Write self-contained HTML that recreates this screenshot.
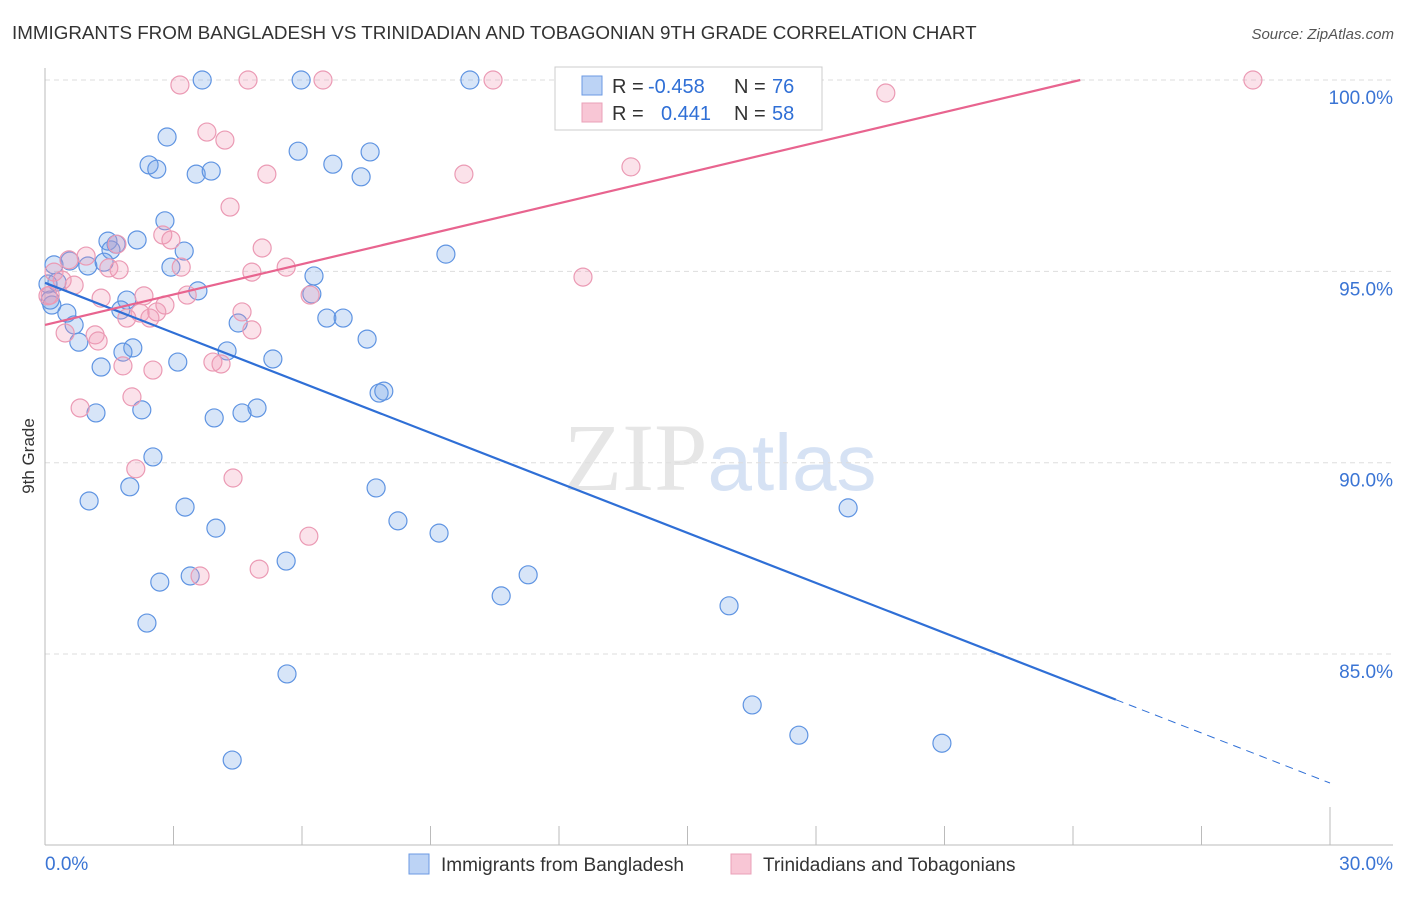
<!DOCTYPE html>
<html><head><meta charset="utf-8"><style>
body{margin:0;background:#fff;font-family:"Liberation Sans",sans-serif}
svg text{font-family:"Liberation Sans",sans-serif}
</style></head><body>
<svg id="chart" width="1406" height="892" xmlns="http://www.w3.org/2000/svg">
<text x="12" y="39" font-size="18.8" fill="#333">IMMIGRANTS FROM BANGLADESH VS TRINIDADIAN AND TOBAGONIAN 9TH GRADE CORRELATION CHART</text>
<text x="1394" y="39" font-size="15" fill="#555" text-anchor="end" font-style="italic">Source: ZipAtlas.com</text>
<text x="720" y="490" font-size="96" text-anchor="middle" fill="#e6e6e6"><tspan font-family="Liberation Serif">ZIP</tspan><tspan fill="#d6e2f4" font-size="80">atlas</tspan></text>
<g id="grid"></g>
<g id="axes"></g>
<g id="pts"></g>
<g id="trend"></g>
<text transform="translate(34,456) rotate(-90)" font-size="17" fill="#333" text-anchor="middle">9th Grade</text>
<g>
<rect x="555" y="67" width="267" height="63" fill="#fff" stroke="#ccc"/>
<rect x="582" y="76" width="20" height="19" fill="#bcd3f5" stroke="#6b9ae3"/>
<rect x="582" y="103" width="20" height="19" fill="#f8c6d5" stroke="#eaa0b8"/>
<text x="612" y="93" font-size="20" fill="#333">R =</text>
<text x="648" y="93" font-size="20" fill="#2f6fd6">-0.458</text>
<text x="734" y="93" font-size="20" fill="#333">N =</text>
<text x="772" y="93" font-size="20" fill="#2f6fd6">76</text>
<text x="612" y="120" font-size="20" fill="#333">R =</text>
<text x="661" y="120" font-size="20" fill="#2f6fd6">0.441</text>
<text x="734" y="120" font-size="20" fill="#333">N =</text>
<text x="772" y="120" font-size="20" fill="#2f6fd6">58</text>
</g>
<g>
<rect x="409" y="854" width="20" height="20" fill="#bcd3f5" stroke="#6b9ae3"/>
<text x="441" y="871" font-size="19" fill="#333">Immigrants from Bangladesh</text>
<rect x="731" y="854" width="20" height="20" fill="#f8c6d5" stroke="#eaa0b8"/>
<text x="763" y="871" font-size="19" fill="#333">Trinidadians and Tobagonians</text>
</g>
</svg>
<script>
const blueX=[3.67,5.98,9.92,2.85,2.43,2.61,3.53,3.88,5.91,6.72,7.59,7.38,2.80,1.47,2.15,1.66,1.54,3.25,9.36,0.21,0.58,1.00,1.38,2.94,6.28,0.28,0.07,3.57,6.23,1.91,0.16,0.51,1.77,6.58,6.96,4.51,0.68,0.79,2.05,1.82,4.25,7.52,3.10,5.32,1.31,7.80,7.91,2.26,1.19,4.95,4.60,3.95,2.52,1.98,1.03,7.73,3.27,8.24,3.99,9.20,18.75,5.63,2.68,3.39,11.28,10.65,15.97,2.38,5.65,16.51,17.60,20.94,4.37,0.12];
const blueY=[100,100,100,98.51,97.78,97.67,97.54,97.62,98.14,97.80,98.12,97.47,96.32,95.79,95.82,95.71,95.56,95.53,95.45,95.17,95.27,95.14,95.24,95.11,94.88,94.72,94.67,94.49,94.41,94.25,94.12,93.91,93.99,93.78,93.78,93.65,93.60,93.15,93.00,92.89,92.92,93.23,92.63,92.71,92.50,91.82,91.87,91.38,91.30,91.43,91.30,91.17,90.15,89.37,89.00,89.34,88.84,88.48,88.29,88.16,88.82,87.43,86.88,87.04,87.07,86.52,86.26,85.81,84.48,83.67,82.88,82.67,82.23,94.25];
const pinkX=[3.15,4.74,6.49,10.46,28.20,19.63,3.78,4.20,13.68,5.18,9.78,4.32,2.75,2.94,5.07,0.96,1.68,0.56,1.49,1.73,3.18,5.63,4.83,12.56,0.21,0.40,0.68,0.07,2.31,1.31,3.32,6.19,2.80,4.60,2.61,2.22,1.91,2.45,4.83,1.17,0.47,1.24,3.92,4.11,1.82,2.52,2.03,0.82,2.12,4.39,6.16,5.00,3.62,0.12];
const pinkY=[99.87,100,100,100,100,99.66,98.64,98.43,97.73,97.54,97.54,96.68,95.95,95.82,95.61,95.40,95.71,95.30,95.09,95.04,95.11,95.11,94.98,94.85,94.98,94.77,94.64,94.36,94.36,94.30,94.38,94.38,94.12,93.94,93.94,93.91,93.78,93.78,93.47,93.34,93.39,93.18,92.63,92.58,92.53,92.42,91.72,91.43,89.84,89.60,88.08,87.22,87.04,94.38];
const blueTrend=[94.70,81.63]; // y at x=0, x=30
const blueSolidEnd=[25.0];
const pinkTrend=[93.60,0.2648]; // intercept, slope
const yTicks=[100,95,90,85];
const yTickLabels=["100.0%","95.0%","90.0%","85.0%"];
const xTicks=[0,3,6,9,12,15,18,21,24,27,30];
const xLabels=["0.0%","30.0%"];
const NS="http://www.w3.org/2000/svg";
const sx=v=>45+v/30*1285;
const sy=v=>80+(100-v)*38.27;
function mk(p,t,a){const e=document.createElementNS(NS,t);for(const k in a)e.setAttribute(k,a[k]);document.getElementById(p).appendChild(e);return e;}
yTicks.forEach((v,i)=>{
 const l=mk('grid','line',{x1:45,x2:1393,y1:sy(v),y2:sy(v),stroke:'#ddd','stroke-dasharray':'5,4'});
 
 
 const t=mk('grid','text',{x:1393,y:sy(v)+24,'font-size':19,fill:'#3a74d4','text-anchor':'end'});
 t.textContent=yTickLabels[i];
 
 
});
const ax=mk('axes','line',{x1:45,x2:1393,y1:845,y2:845,stroke:'#bbb'});


const ay=mk('axes','line',{x1:45,x2:45,y1:68,y2:845,stroke:'#bbb'});


xTicks.forEach((v,i)=>{
 const t=mk('axes','line',{x1:sx(v),x2:sx(v),y1:(i==0||i==xTicks.length-1)?807:826,y2:845,stroke:'#bbb'});
 
 
});
[[0,'start',45],[1,'end',1393]].forEach(([i,a,x])=>{
 const t=mk('axes','text',{x:x,y:870,'font-size':19,fill:'#3a74d4','text-anchor':a});
 t.textContent=xLabels[i];
 
 
});
function pts(X,Y,fill,stroke,name){X.forEach((x,i)=>{
 const c=mk('pts','circle',{cx:sx(x),cy:sy(Y[i]),r:9,fill:fill,stroke:stroke,'stroke-width':1.2});
 
 
});}
pts(blueX,blueY,'rgba(110,160,230,0.28)','#5f94e2','bangladesh-point');
pts(pinkX,pinkY,'rgba(240,150,180,0.28)','#eb9ab4','trinidad-point');
const by=x=>blueTrend[0]+(blueTrend[1]-blueTrend[0])*x/30;
const b1=mk('trend','line',{x1:sx(0),y1:sy(by(0)),x2:sx(blueSolidEnd[0]),y2:sy(by(blueSolidEnd[0])),stroke:'#2f6fd6','stroke-width':2.2});


const b2=mk('trend','line',{x1:sx(blueSolidEnd[0]),y1:sy(by(blueSolidEnd[0])),x2:sx(30),y2:sy(by(30)),stroke:'#2f6fd6','stroke-width':1,'stroke-dasharray':'8,6'});


const pxEnd=(100-pinkTrend[0])/pinkTrend[1];
const p1=mk('trend','line',{x1:sx(0),y1:sy(pinkTrend[0]),x2:sx(pxEnd),y2:sy(100),stroke:'#e8648f','stroke-width':2.2});


</script>
</body></html>
